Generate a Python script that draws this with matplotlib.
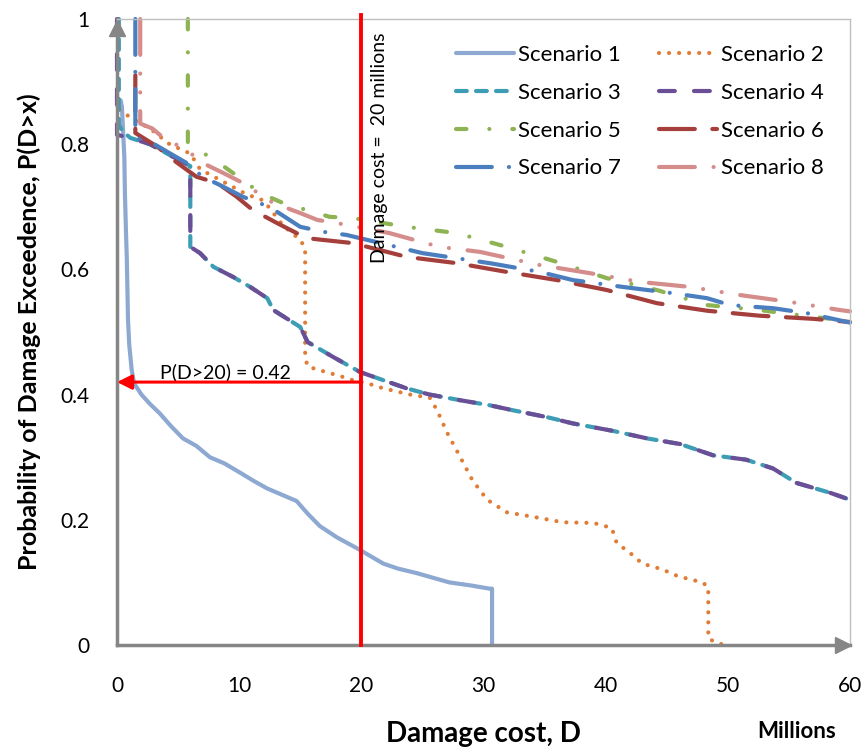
import matplotlib
matplotlib.use("Agg")
import matplotlib.pyplot as plt

plt.rcParams['font.family'] = ['Lato', 'DejaVu Sans']

# exceedance curves (x in millions, y = P(D>x))
s1_x = [0.3, 0.4, 0.5, 0.6, 0.65, 0.75, 0.8, 0.9, 1.0, 1.2, 1.4, 2.0, 2.7, 3.5, 4.4, 5.4, 6.5, 7.6,
        8.8, 10.1, 11.2, 12.3, 13.5, 14.7, 15.6, 16.6, 18.0, 19.6, 21.8, 23.0, 24.5, 27.2, 29.0,
        30.5, 30.7, 30.7]
s1_y = [0.87, 0.86, 0.82, 0.78, 0.72, 0.65, 0.62, 0.52, 0.48, 0.44, 0.418, 0.40, 0.385, 0.37,
        0.35, 0.33, 0.318, 0.30, 0.29, 0.275, 0.262, 0.25, 0.24, 0.23, 0.21, 0.19, 0.172, 0.155,
        0.13, 0.122, 0.115, 0.10, 0.095, 0.09, 0.09, 0.0]

s2_x = [0.2, 1.3, 2.7, 4.3, 6.0, 6.8, 8.7, 10.6, 12.0, 13.6, 15.0, 15.4, 15.4, 15.6, 16.4, 18.2,
        19.3, 20.5, 21.8, 24.0, 25.6, 26.2, 27.0, 28.1, 29.1, 30.3, 31.9, 34.0, 36.5, 39.0, 40.5,
        40.9, 42.0, 43.0, 44.6, 45.9, 47.9, 48.4, 48.4, 48.9, 49.7]
s2_y = [0.855, 0.84, 0.825, 0.80, 0.785, 0.76, 0.74, 0.72, 0.71, 0.67, 0.647, 0.634, 0.46, 0.445,
        0.44, 0.43, 0.423, 0.418, 0.41, 0.40, 0.395, 0.375, 0.34, 0.30, 0.263, 0.232, 0.212, 0.205,
        0.196, 0.195, 0.187, 0.163, 0.147, 0.13, 0.121, 0.11, 0.10, 0.093, 0.011, 0.005, 0.0]

s3_x = [0.15, 0.15, 0.5, 1.1, 2.7, 4.1, 6.0, 6.0, 6.8, 7.9, 9.5, 10.9, 12.3, 12.8, 15.0, 15.6, 17.7,
        19.9, 21.8, 23.7, 25.6, 28.1, 30.5, 32.4, 35.2, 37.3, 40.6, 43.4, 46.1, 48.8, 51.5, 53.7,
        55.6, 58.4, 60.0]
s3_y = [1.0, 0.83, 0.82, 0.81, 0.80, 0.785, 0.765, 0.636, 0.626, 0.604, 0.588, 0.572, 0.554, 0.535,
        0.508, 0.484, 0.46, 0.436, 0.423, 0.41, 0.40, 0.391, 0.383, 0.375, 0.364, 0.354, 0.342,
        0.33, 0.321, 0.303, 0.296, 0.282, 0.259, 0.243, 0.232]

s4_x = [0.0, 0.0, 1.1, 2.7, 4.1, 6.0, 6.0, 6.8, 7.9, 9.5, 10.9, 12.3, 12.8, 15.0, 15.6, 17.7, 19.9,
        21.8, 23.7, 25.6, 28.1, 30.5, 32.4, 35.2, 37.3, 40.6, 43.4, 46.1, 48.8, 51.5, 53.7, 55.6,
        58.4, 60.0]
s4_y = [1.0, 0.815, 0.81, 0.80, 0.785, 0.765, 0.636, 0.626, 0.604, 0.588, 0.572, 0.554, 0.535,
        0.508, 0.484, 0.46, 0.436, 0.423, 0.41, 0.40, 0.391, 0.383, 0.375, 0.364, 0.354, 0.342,
        0.33, 0.321, 0.303, 0.296, 0.282, 0.259, 0.243, 0.232]

s5_x = [5.8, 5.8, 7.3, 8.7, 10.3, 11.7, 13.6, 15.5, 17.4, 19.3, 23.7, 27.8, 31.9, 36.0, 40.1, 44.2,
        48.3, 52.6, 57.0, 60.0]
s5_y = [1.0, 0.80, 0.783, 0.765, 0.743, 0.722, 0.706, 0.695, 0.684, 0.682, 0.668, 0.658, 0.636,
        0.612, 0.586, 0.567, 0.543, 0.535, 0.524, 0.518]

s6_x = [1.5, 1.5, 3.3, 4.6, 6.5, 8.2, 9.8, 11.1, 13.1, 15.5, 16.9, 19.3, 23.7, 27.8, 31.9, 36.0,
        40.1, 44.2, 48.3, 52.6, 57.0, 60.0]
s6_y = [0.91, 0.818, 0.796, 0.775, 0.748, 0.738, 0.716, 0.695, 0.674, 0.65, 0.647, 0.642, 0.62,
        0.61, 0.596, 0.583, 0.567, 0.546, 0.534, 0.526, 0.521, 0.516]

s7_x = [1.5, 1.5, 2.7, 4.1, 5.7, 7.0, 8.4, 10.3, 11.7, 13.1, 15.0, 16.9, 18.8, 25.0, 30.5, 34.6,
        37.3, 41.4, 45.5, 48.3, 50.2, 53.7, 56.5, 60.0]
s7_y = [1.0, 0.81, 0.804, 0.788, 0.77, 0.748, 0.735, 0.716, 0.706, 0.692, 0.668, 0.66, 0.655,
        0.626, 0.61, 0.596, 0.583, 0.572, 0.562, 0.554, 0.543, 0.538, 0.53, 0.515]

s8_x = [1.9, 1.9, 2.9, 3.5, 6.0, 7.0, 8.7, 10.3, 12.8, 15.0, 16.4, 18.0, 19.6, 22.3, 26.4, 29.7,
        34.6, 38.7, 42.8, 46.9, 51.0, 55.1, 59.2, 60.0]
s8_y = [1.0, 0.833, 0.825, 0.815, 0.786, 0.77, 0.754, 0.738, 0.706, 0.69, 0.679, 0.674, 0.668,
        0.658, 0.636, 0.628, 0.607, 0.594, 0.58, 0.572, 0.559, 0.548, 0.535, 0.533]

labels = ['Scenario 1', 'Scenario 2', 'Scenario 3', 'Scenario 4',
          'Scenario 5', 'Scenario 6', 'Scenario 7', 'Scenario 8']
x_ticks = [0, 10, 20, 30, 40, 50, 60]
y_ticks = [0, 0.2, 0.4, 0.6, 0.8, 1]
y_tick_labels = ['0', '0.2', '0.4', '0.6', '0.8', '1']
threshold = 20
p_threshold = 0.42

series = [(s1_x, s1_y), (s2_x, s2_y), (s3_x, s3_y), (s4_x, s4_y),
          (s5_x, s5_y), (s6_x, s6_y), (s7_x, s7_y), (s8_x, s8_y)]
colors = ['#8EA9D1', '#E07C35', '#3D9DB5', '#6B4F96', '#8DB352', '#A53F3C', '#4A7EBF', '#D48D8B']
styles = ['-', (0, (0.01, 2.4)), (0, (2.6, 2.2)), (0, (3.8, 4.6)),
          (0, (2.5, 5.5, 0.01, 5.5)), (0, (8.6, 4.2)), (0, (8.6, 4.1, 0.01, 4.1)),
          (0, (8.6, 4.5, 0.01, 4.5, 0.01, 4.5))]

fig = plt.figure(figsize=(8.63, 7.51), dpi=100)
ax = fig.add_axes([117/863, 1-645/751, 733/863, 626/751])

handles = []
for (xs, ys), c, ls, lab in zip(series, colors, styles, labels):
    h, = ax.plot(xs, ys, color=c, linestyle=ls, lw=3, label=lab,
                 solid_capstyle='round', dash_capstyle='round', clip_on=False)
    handles.append(h)

ax.set_xlim(0, 60)
ax.set_ylim(0, 1)
ax.set_xticks(x_ticks)
ax.set_yticks(y_ticks)
ax.set_yticklabels(y_tick_labels)
ax.tick_params(length=0, labelsize=15)
ax.tick_params(axis='x', pad=22)
ax.tick_params(axis='y', pad=20)

axis_gray = '#868686'
for side in ['left', 'bottom']:
    ax.spines[side].set_color(axis_gray)
    ax.spines[side].set_linewidth(2.5)
for side in ['top', 'right']:
    ax.spines[side].set_color('#BFBFBF')
    ax.spines[side].set_linewidth(1)
ax.plot(0, 0.985, marker='^', ms=11, color=axis_gray, transform=ax.transAxes, clip_on=False)
ax.plot(0.99, 0, marker='>', ms=11, color=axis_gray, transform=ax.transAxes, clip_on=False)

# threshold marker and reading
ax.plot([threshold, threshold], [0, 1.006], color='red', lw=2.8, clip_on=False, zorder=5)
ax.annotate('', xy=(0, p_threshold), xytext=(threshold, p_threshold),
            arrowprops=dict(arrowstyle='-|>', color='red', lw=2.2, mutation_scale=22,
                            shrinkA=0, shrinkB=0), zorder=5)
ax.text(8.9, 0.4265, 'P(D>20) = 0.42', fontsize=14, ha='center', va='baseline')
ax.text(21.5, 0.978, 'Damage cost =  20 millions', fontsize=14, rotation=90,
        ha='center', va='top', zorder=6)

ax.set_xlabel('Damage cost, D', fontsize=20, fontweight='bold', labelpad=18)
ax.set_ylabel('Probability of Damage Exceedence, P(D>x)', fontsize=18, fontweight='bold',
              labelpad=14)
fig.text(797/863, 1-731/751, 'Millions', fontsize=16, fontweight='bold', ha='center', va='center')

# legend fills row by row in the reference: 1 2 / 3 4 / 5 6 / 7 8
order = [0, 2, 4, 6, 1, 3, 5, 7]
ax.legend([handles[i] for i in order], [labels[i] for i in order],
          ncol=2, loc='upper left', bbox_to_anchor=(445/863, 1-34/751),
          bbox_transform=fig.transFigure, frameon=False, fontsize=16, borderpad=0,
          handlelength=2.6, handletextpad=0.2, columnspacing=1.7, labelspacing=0.8)

fig.savefig('out.png', dpi=100)
